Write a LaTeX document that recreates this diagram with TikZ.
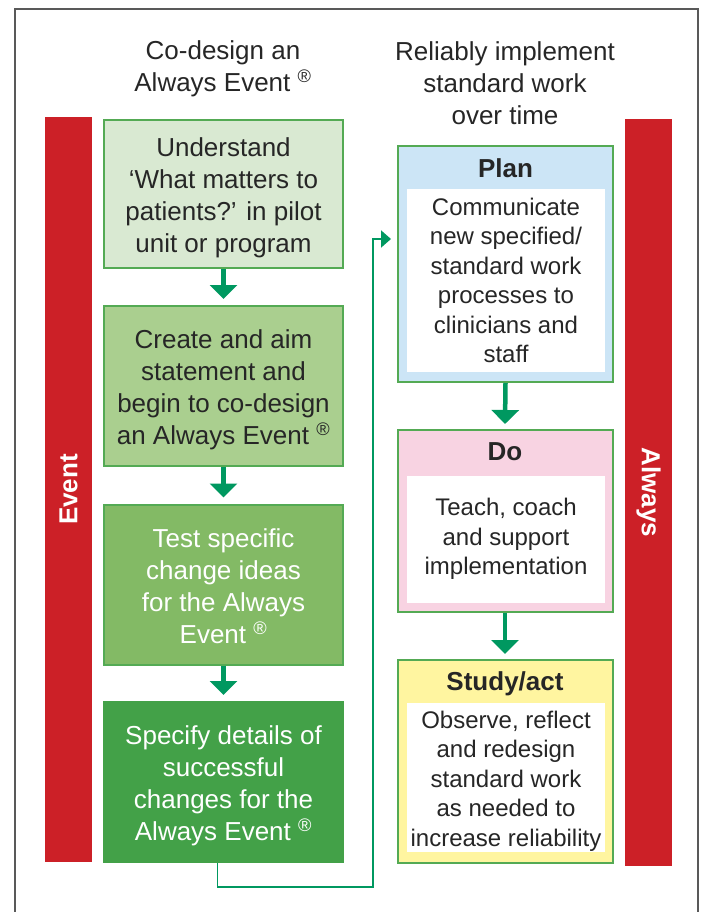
\documentclass[tikz,border=0pt]{standalone}
\usepackage{fontspec}
\setmainfont{Liberation Sans}
\usetikzlibrary{arrows.meta}
\definecolor{barred}{RGB}{204,32,39}
\definecolor{boxgreen}{RGB}{84,170,84}
\definecolor{arrowgreen}{RGB}{0,152,96}
\definecolor{greenA}{RGB}{217,233,210}
\definecolor{greenB}{RGB}{170,207,143}
\definecolor{greenC}{RGB}{131,186,101}
\definecolor{greenD}{RGB}{67,161,72}
\definecolor{planblue}{RGB}{204,229,246}
\definecolor{dopink}{RGB}{248,211,226}
\definecolor{studyyellow}{RGB}{255,245,160}
\newcommand{\regmark}{\textsuperscript{®}}
\newcommand{\lift}[1]{\rule{0pt}{#1}}
\tikzset{
  bigfont/.style={font=\fontsize{26}{32}\selectfont},
  bodyfont/.style={font=\fontsize{24}{29.5}\selectfont},
  headfont/.style={font=\fontsize{26}{30}\selectfont\bfseries},
  title/.style={bigfont, align=center, text=black!85},
  stepbox/.style={draw=boxgreen, line width=2pt, bigfont, align=center,
    minimum width=239pt, minimum height=160pt, inner sep=0pt, text=black!85},
  cyclebox/.style={draw=boxgreen, line width=2pt, minimum width=215pt, inner sep=0pt},
  innerbox/.style={fill=white, bodyfont, align=center,
    minimum width=198pt, inner sep=0pt, text=black!85},
  header/.style={headfont, text=black!85},
  bar/.style={fill=barred, text=white, headfont, minimum height=47pt, inner sep=0pt},
  flow/.style={draw=arrowgreen, line width=4.5pt, -{Triangle[width=27pt,length=14pt]}},
  link/.style={draw=arrowgreen, line width=1.8pt, -{Triangle[width=17pt,length=10pt]}}
}
\begin{document}
\begin{tikzpicture}[x=1pt,y=-1pt]
\useasboundingbox (0,0) rectangle (701,912);
\draw[black!65, line width=1.5pt] (15,912) -- (15,9) -- (698,9) -- (698,912);
\node[title] (lefttitle) at (223,69) {Co-design an\\Always Event \regmark};
\node[title] (righttitle) at (505,83) {Reliably implement\\standard work\\over time};
\node[bar, rotate=90, minimum width=745pt] (eventbar) at (68.5,489.5) {Event};
\node[bar, rotate=-90, minimum width=747pt] (alwaysbar) at (648.5,492.5) {Always};
\node[stepbox, fill=greenA, minimum height=148pt] (box1) at (223.5,194) {\lift{27pt}Understand\\‘What matters to\\patients?’ in pilot\\unit or program};
\node[stepbox, fill=greenB] (box2) at (223.5,386) {\lift{27pt}Create and aim\\statement and\\begin to co-design\\an Always Event \regmark};
\node[stepbox, fill=greenC, text=white] (box3) at (223.5,584.5) {\lift{23pt}Test specific\\change ideas\\for the Always\\Event \regmark};
\node[stepbox, fill=greenD, draw=greenD, text=white] (box4) at (223.5,782) {\lift{27pt}Specify details of\\successful\\changes for the\\Always Event \regmark};
\draw[flow] (box1.south) -- ([yshift=6pt]box2.north);
\draw[flow] (box2.south) -- ([yshift=6pt]box3.north);
\draw[flow] (box3.south) -- ([yshift=6pt]box4.north);
\node[cyclebox, fill=planblue, minimum height=236pt] (plan) at (505.5,264) {};
\node[header] (planhead) at (505.5,168) {Plan};
\node[innerbox, minimum height=183pt] (plantext) at (506,280.5) {Communicate\\new specified/\\standard work\\processes to\\clinicians and\\staff};
\node[cyclebox, fill=dopink, minimum height=182pt] (do) at (505,521) {};
\node[header] (dohead) at (505,452) {Do};
\node[innerbox, minimum height=127pt] (dotext) at (506,539) {Teach, coach\\and support\\implementation};
\node[cyclebox, fill=studyyellow, minimum height=203pt] (study) at (505,761.5) {};
\node[header] (studyhead) at (505,684) {Study/act};
\node[innerbox, minimum height=149pt] (studytext) at (506,777.5) {\lift{24pt}Observe, reflect\\and redesign\\standard work\\as needed to\\increase reliability};
\draw[flow] (plan.south) -- ([yshift=5pt]do.north);
\draw[flow] (do.south) -- ([yshift=5pt]study.north);
\coordinate (turn) at (373,887);
\coordinate (entry) at (373,239);
\draw[link] ([xshift=-6pt]box4.south) |- (turn) -- (entry) -- ([shift={(-6pt,25pt)}]plan.west);
\end{tikzpicture}
\end{document}
